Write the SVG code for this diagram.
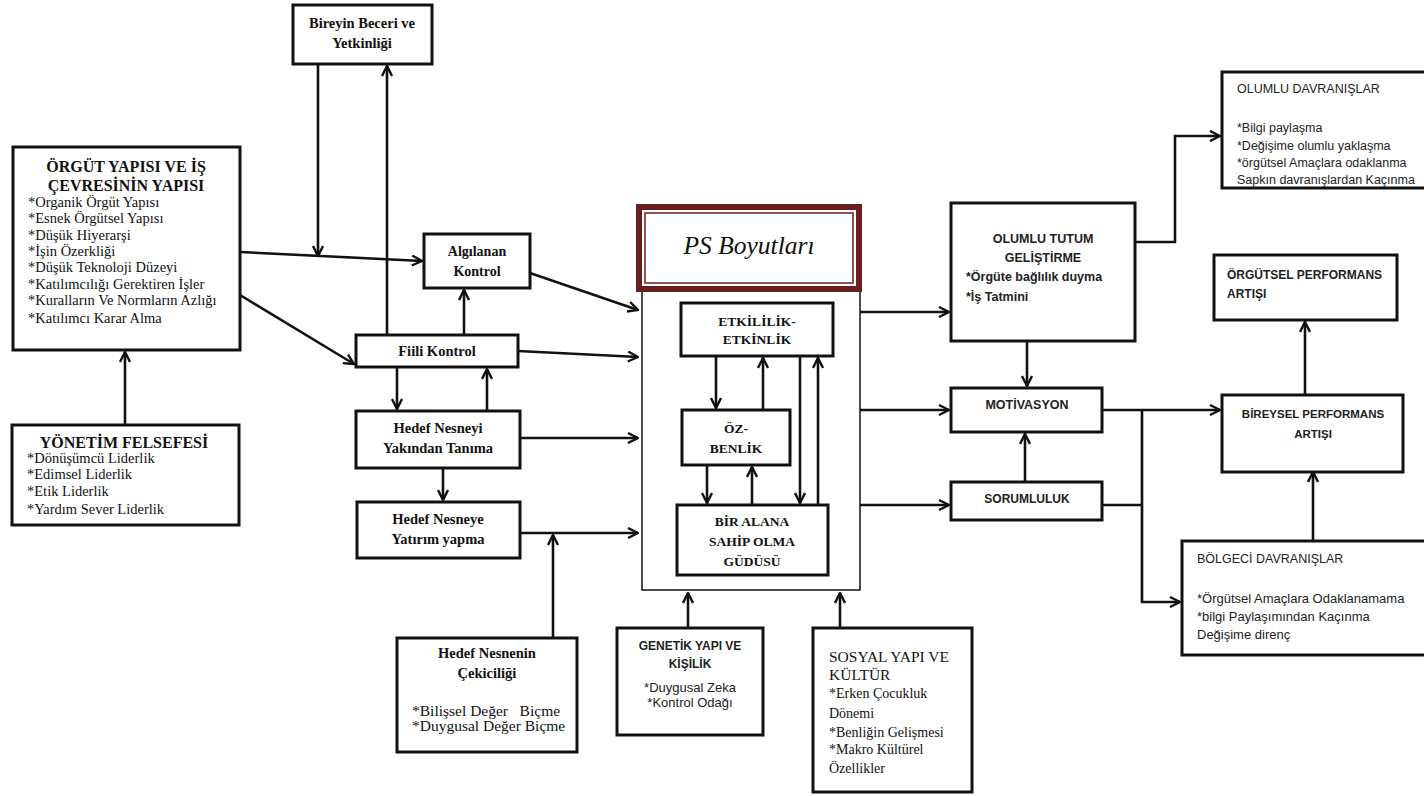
<svg xmlns="http://www.w3.org/2000/svg" width="1424" height="796" viewBox="0 0 1424 796">
<style>
.box{fill:#fff;stroke:#111;stroke-width:3}
.thin{fill:#fff;stroke:#111;stroke-width:1.5}
.c{fill:none;stroke:#111;stroke-width:2.6}
.st{font-family:"Liberation Serif",serif;font-weight:bold;fill:#111}
.sr{font-family:"Liberation Serif",serif;fill:#111}
.sb{font-family:"Liberation Sans",sans-serif;font-weight:bold;fill:#222}
.sn{font-family:"Liberation Sans",sans-serif;fill:#222}
.m{text-anchor:middle}
</style>
<defs>
<marker id="a" viewBox="0 0 12 12" refX="11" refY="6" markerWidth="12" markerHeight="12" markerUnits="userSpaceOnUse" orient="auto">
<path d="M1,1 L11,6 L1,11" fill="none" stroke="#111" stroke-width="2.4"/>
</marker>
</defs>
<rect width="1424" height="796" fill="#fff"/>

<g id="ps">
<rect class="thin" x="642" y="290" width="218" height="300"/>
<rect x="639" y="207" width="220" height="82" fill="#fff" stroke="#6b1d1d" stroke-width="6"/>
<rect x="645" y="213" width="208" height="70" fill="none" stroke="#6b1d1d" stroke-width="1.5"/>
<text class="sr m" x="749" y="254" font-size="25.5" font-style="italic" fill="#222">PS Boyutları</text>
</g>

<g id="connectors">
<line class="c" x1="125" y1="425" x2="125" y2="352" marker-end="url(#a)"/>
<line class="c" x1="240" y1="252" x2="422" y2="261" marker-end="url(#a)"/>
<line class="c" x1="318" y1="64" x2="318" y2="256" marker-end="url(#a)"/>
<line class="c" x1="387" y1="335" x2="387" y2="66" marker-end="url(#a)"/>
<line class="c" x1="240" y1="295" x2="354" y2="364" marker-end="url(#a)"/>
<line class="c" x1="464" y1="335" x2="464" y2="290" marker-end="url(#a)"/>
<line class="c" x1="397" y1="367" x2="397" y2="409" marker-end="url(#a)"/>
<line class="c" x1="487" y1="411" x2="487" y2="369" marker-end="url(#a)"/>
<line class="c" x1="443" y1="468" x2="443" y2="500" marker-end="url(#a)"/>
<line class="c" x1="530" y1="273" x2="638" y2="310" marker-end="url(#a)"/>
<line class="c" x1="518" y1="351" x2="638" y2="357" marker-end="url(#a)"/>
<line class="c" x1="520" y1="438" x2="638" y2="438" marker-end="url(#a)"/>
<line class="c" x1="520" y1="533" x2="638" y2="533" marker-end="url(#a)"/>
<line class="c" x1="553" y1="638" x2="553" y2="535" marker-end="url(#a)"/>
<line class="c" x1="688" y1="628" x2="688" y2="593" marker-end="url(#a)"/>
<line class="c" x1="840" y1="628" x2="840" y2="593" marker-end="url(#a)"/>
<line class="c" x1="716" y1="356" x2="716" y2="408" marker-end="url(#a)"/>
<line class="c" x1="763" y1="410" x2="763" y2="358" marker-end="url(#a)"/>
<line class="c" x1="707" y1="465" x2="707" y2="503" marker-end="url(#a)"/>
<line class="c" x1="752" y1="505" x2="752" y2="467" marker-end="url(#a)"/>
<line class="c" x1="800" y1="356" x2="800" y2="503" marker-end="url(#a)"/>
<line class="c" x1="818" y1="505" x2="818" y2="358" marker-end="url(#a)"/>
<line class="c" x1="860" y1="312" x2="949" y2="312" marker-end="url(#a)"/>
<line class="c" x1="860" y1="410" x2="949" y2="410" marker-end="url(#a)"/>
<line class="c" x1="860" y1="505" x2="949" y2="505" marker-end="url(#a)"/>
<line class="c" x1="1027" y1="341" x2="1027" y2="386" marker-end="url(#a)"/>
<line class="c" x1="1025" y1="482" x2="1025" y2="434" marker-end="url(#a)"/>
<polyline class="c" points="1135,242 1175,242 1175,136 1220,136" marker-end="url(#a)"/>
<line class="c" x1="1102" y1="410" x2="1220" y2="410" marker-end="url(#a)"/>
<polyline class="c" points="1142,410 1142,602 1180,602" marker-end="url(#a)"/>
<line class="c" x1="1102" y1="505" x2="1142" y2="505"/>
<line class="c" x1="1313" y1="541" x2="1313" y2="472" marker-end="url(#a)"/>
<line class="c" x1="1305" y1="395" x2="1305" y2="322" marker-end="url(#a)"/>
</g>

<g id="orgut">
<rect class="box" x="13" y="147" width="227" height="203"/>
<text class="st m" x="126" y="172" font-size="16">ÖRGÜT YAPISI VE İŞ</text>
<text class="st m" x="126" y="191" font-size="16">ÇEVRESİNİN YAPISI</text>
<g class="sr" font-size="14.5">
<text x="28" y="207">*Organik Örgüt Yapısı</text>
<text x="28" y="223">*Esnek Örgütsel Yapısı</text>
<text x="28" y="240">*Düşük Hiyerarşi</text>
<text x="28" y="256">*İşin Özerkliği</text>
<text x="28" y="272">*Düşük Teknoloji Düzeyi</text>
<text x="28" y="289">*Katılımcılığı Gerektiren İşler</text>
<text x="28" y="305">*Kuralların Ve Normların Azlığı</text>
<text x="28" y="323">*Katılımcı Karar Alma</text>
</g>
</g>

<g id="yonetim">
<rect class="box" x="12" y="425" width="227" height="100"/>
<text class="st m" x="124" y="448" font-size="16">YÖNETİM FELSEFESİ</text>
<g class="sr" font-size="14.5">
<text x="27" y="463">*Dönüşümcü Liderlik</text>
<text x="27" y="479">*Edimsel Liderlik</text>
<text x="27" y="496">*Etik Liderlik</text>
<text x="27" y="514">*Yardım Sever Liderlik</text>
</g>
</g>

<g id="bireyin">
<rect class="box" x="293" y="5" width="139" height="59"/>
<text class="st m" x="362" y="28" font-size="14.5">Bireyin Beceri ve</text>
<text class="st m" x="362" y="48" font-size="14.5">Yetkinliği</text>
</g>

<g id="algilanan">
<rect class="box" x="424" y="234" width="106" height="54"/>
<text class="st m" x="477" y="256" font-size="14">Algılanan</text>
<text class="st m" x="477" y="276" font-size="14">Kontrol</text>
</g>

<g id="fiili">
<rect class="box" x="356" y="335" width="162" height="32"/>
<text class="st m" x="437" y="356" font-size="14.5">Fiili Kontrol</text>
</g>

<g id="hedef-yakindan">
<rect class="box" x="356" y="411" width="164" height="57"/>
<text class="st m" x="438" y="433" font-size="14.5">Hedef Nesneyi</text>
<text class="st m" x="438" y="453" font-size="14.5">Yakından Tanıma</text>
</g>

<g id="hedef-yatirim">
<rect class="box" x="357" y="502" width="163" height="56"/>
<text class="st m" x="438" y="524" font-size="14.5">Hedef Nesneye</text>
<text class="st m" x="438" y="544" font-size="14.5">Yatırım yapma</text>
</g>

<g id="hedef-cekicilik">
<rect class="box" x="397" y="638" width="180" height="114"/>
<text class="st m" x="487" y="658" font-size="14.5">Hedef Nesnenin</text>
<text class="st m" x="487" y="678" font-size="14.5">Çekiciliği</text>
<text class="sr" x="412" y="716" font-size="15.5" xml:space="preserve">*Bilişsel Değer   Biçme</text>
<text class="sr" x="412" y="731" font-size="15.5">*Duygusal Değer Biçme</text>
</g>

<g id="etkililik">
<rect class="box" x="681" y="303" width="152" height="53"/>
<text class="st m" x="757" y="326" font-size="13.5">ETKİLİLİK-</text>
<text class="st m" x="757" y="344" font-size="13.5">ETKİNLİK</text>
</g>

<g id="ozbenlik">
<rect class="box" x="682" y="410" width="108" height="55"/>
<text class="st m" x="736" y="433" font-size="13.5">ÖZ-</text>
<text class="st m" x="736" y="453" font-size="13.5">BENLİK</text>
</g>

<g id="biralana">
<rect class="box" x="677" y="505" width="151" height="70"/>
<text class="st m" x="752" y="526" font-size="13.5">BİR ALANA</text>
<text class="st m" x="752" y="546" font-size="13.5">SAHİP OLMA</text>
<text class="st m" x="752" y="566" font-size="13.5">GÜDÜSÜ</text>
</g>

<g id="genetik">
<rect class="box" x="617" y="628" width="146" height="107"/>
<text class="sb m" x="690" y="650" font-size="12">GENETİK YAPI VE</text>
<text class="sb m" x="690" y="668" font-size="12">KİŞİLİK</text>
<text class="sn m" x="690" y="692" font-size="13">*Duygusal Zeka</text>
<text class="sn m" x="690" y="707" font-size="13">*Kontrol Odağı</text>
</g>

<g id="sosyal">
<rect class="box" x="813" y="628" width="159" height="164"/>
<g class="sr" font-size="14">
<text x="829" y="662" font-size="15.5">SOSYAL YAPI VE</text>
<text x="829" y="680" font-size="15.5">KÜLTÜR</text>
<text x="829" y="698">*Erken Çocukluk</text>
<text x="829" y="718">Dönemi</text>
<text x="829" y="737">*Benliğin Gelişmesi</text>
<text x="829" y="754">*Makro Kültürel</text>
<text x="829" y="773">Özellikler</text>
</g>
</g>

<g id="olumlu-tutum">
<rect class="box" x="951" y="203" width="184" height="138"/>
<text class="sb m" x="1043" y="243" font-size="12.5">OLUMLU TUTUM</text>
<text class="sb m" x="1043" y="262" font-size="12.5">GELİŞTİRME</text>
<text class="sb" x="966" y="281" font-size="12.5">*Örgüte bağlılık duyma</text>
<text class="sb" x="966" y="301" font-size="12.5">*İş Tatmini</text>
</g>

<g id="motivasyon">
<rect class="box" x="951" y="388" width="151" height="44"/>
<text class="sb m" x="1027" y="409" font-size="12.5">MOTİVASYON</text>
</g>

<g id="sorumluluk">
<rect class="box" x="951" y="482" width="151" height="38"/>
<text class="sb m" x="1027" y="503" font-size="12">SORUMLULUK</text>
</g>

<g id="olumlu-davranislar">
<rect class="box" x="1222" y="72" width="210" height="116"/>
<g class="sn" font-size="12.5">
<text x="1237" y="93">OLUMLU DAVRANIŞLAR</text>
<text x="1237" y="132">*Bilgi paylaşma</text>
<text x="1237" y="150">*Değişime olumlu yaklaşma</text>
<text x="1237" y="167">*örgütsel Amaçlara odaklanma</text>
<text x="1237" y="184">Sapkın davranışlardan Kaçınma</text>
</g>
</g>

<g id="orgutsel-performans">
<rect class="box" x="1214" y="255" width="183" height="65"/>
<text class="sb" x="1227" y="279" font-size="12">ÖRGÜTSEL PERFORMANS</text>
<text class="sb" x="1227" y="298" font-size="12">ARTIŞI</text>
</g>

<g id="bireysel-performans">
<rect class="box" x="1222" y="395" width="181" height="77"/>
<text class="sb m" x="1313" y="418" font-size="11.5">BİREYSEL PERFORMANS</text>
<text class="sb m" x="1313" y="438" font-size="11.5">ARTIŞI</text>
</g>

<g id="bolgeci">
<rect class="box" x="1182" y="541" width="250" height="114"/>
<g class="sn" font-size="13">
<text x="1197" y="563" font-size="12.5">BÖLGECİ DAVRANIŞLAR</text>
<text x="1197" y="603">*Örgütsel Amaçlara Odaklanamama</text>
<text x="1197" y="621">*bilgi Paylaşımından Kaçınma</text>
<text x="1197" y="639">Değişime direnç</text>
</g>
</g>
</svg>
